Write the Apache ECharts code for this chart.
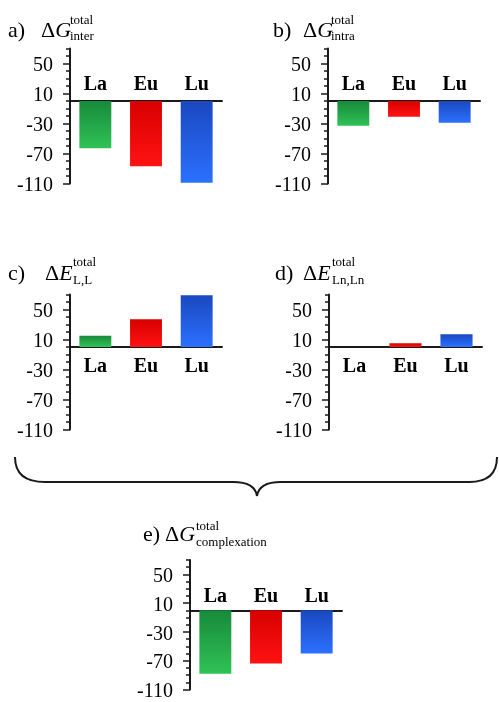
<!DOCTYPE html>
<html><head><meta charset="utf-8">
<script src="https://cdn.jsdelivr.net/npm/echarts@6/dist/echarts.min.js"></script>
<style>html,body{margin:0;padding:0;background:#fff}#c{width:499px;height:702px}</style>
</head><body><div id="c"></div>
<script>
const categories = ['La', 'Eu', 'Lu'];
const interG = [-63, -87, -109];
const intraG = [-33, -21, -29];
const ELL = [15, 37, 69];
const ELnLn = [0, 5, 17];
const complexG = [-88, -74, -60];
const yMin = -110, yMax = 70;
const majorTicks = [-110, -70, -30, 10, 50];
const minorStep = 10;

const serif = '"Liberation Serif", "Times New Roman", serif';
const grad = (c1, c2) => new echarts.graphic.LinearGradient(0, 0, 0, 1, [{offset: 0, color: c1}, {offset: 1, color: c2}]);
const barColors = [grad('#178a3a', '#30c256'), grad('#d80000', '#ff1212'), grad('#1a48bf', '#2c70ff')];

const gridH = 135;
const panels = [
  {data: interG, left: 70, top: 48.5, width: 152, pos: 'top'},
  {data: intraG, left: 328, top: 48.5, width: 152, pos: 'top'},
  {data: ELL, left: 70, top: 294.5, width: 152, pos: 'bottom'},
  {data: ELnLn, left: 329, top: 294.5, width: 153, pos: 'bottom'},
  {data: complexG, left: 190, top: 560, width: 152, pos: 'top'}
];
// distance (px) from grid edge to the zero line, so category labels sit next to the zero line
const zeroFromTop = gridH * (yMax - 0) / (yMax - yMin);
const zeroFromBottom = gridH * (0 - yMin) / (yMax - yMin);

const grid = [], xAxis = [], yAxis = [], series = [];
panels.forEach((p, i) => {
  grid.push({left: p.left, top: p.top, width: p.width, height: gridH});
  xAxis.push({
    type: 'category', gridIndex: i, data: categories, position: p.pos,
    axisLine: {onZero: true, onZeroAxisIndex: 2 * i, lineStyle: {color: '#1a1a1a', width: 2}},
    axisTick: {show: false},
    axisLabel: {fontFamily: serif, fontWeight: 'bold', fontSize: 20, color: '#000',
      margin: p.pos === 'top' ? -(zeroFromTop - 6) : -(zeroFromBottom - 10)},
    splitLine: {show: false}
  });
  yAxis.push({
    type: 'value', gridIndex: i, min: yMin, max: yMax, interval: minorStep, position: 'left',
    axisLine: {show: true, lineStyle: {color: '#1a1a1a', width: 2}},
    axisTick: {show: true, length: 4, lineStyle: {color: '#1a1a1a', width: 1.5}},
    axisLabel: {show: false}, splitLine: {show: false}
  });
  yAxis.push({
    type: 'value', gridIndex: i, min: yMin, max: yMax, position: 'left',
    axisLine: {show: false},
    axisTick: {show: true, length: 7, customValues: majorTicks, lineStyle: {color: '#1a1a1a', width: 1.5}},
    axisLabel: {show: true, customValues: majorTicks, margin: 17, formatter: '{n|{value}}',
      rich: {n: {fontFamily: serif, fontSize: 20, color: '#000', padding: [5, 0, 0, 0]}}},
    splitLine: {show: false}
  });
  series.push({
    type: 'bar', xAxisIndex: i, yAxisIndex: 2 * i, barCategoryGap: '37%',
    data: p.data.map((v, k) => ({value: v, itemStyle: {color: barColors[k]}})),
    silent: true, animation: false
  });
});

const T = (text, x, y, size, extra) => ({
  type: 'text', x: x, y: y,
  style: Object.assign({text: text, fontFamily: serif, fontSize: size, fill: '#000', textAlign: 'left', verticalAlign: 'middle'}, extra || {})
});
const DL = (letter, x, y) => T('{n|Δ}{i|' + letter + '}', x, y, 22, {rich: {n: {fontFamily: serif, fontSize: 22, fill: '#000'}, i: {fontFamily: serif, fontSize: 22, fontStyle: 'italic', fill: '#000'}}});
const braceStyle = {fill: null, stroke: '#1a1a1a', lineWidth: 2};
const Q = (x1, y1, cx, cy, x2, y2) => ({type: 'bezierCurve', shape: {x1, y1, cpx1: cx, cpy1: cy, x2, y2}, style: braceStyle});
const L = (x1, y1, x2, y2) => ({type: 'line', shape: {x1, y1, x2, y2}, style: braceStyle});

const graphic = [
  T('a)', 8, 31, 22), DL('G', 41, 31), T('total', 70, 21, 13), T('inter', 70, 37, 13),
  T('b)', 273, 31, 22), DL('G', 303, 31), T('total', 331, 21, 13), T('intra', 331, 37, 13),
  T('c)', 8, 274, 22), DL('E', 45, 274), T('total', 73, 263, 13), T('L,L', 73, 281, 13),
  T('d)', 275, 274, 22), DL('E', 303, 274), T('total', 332, 263, 13), T('Ln,Ln', 332, 281, 13),
  T('e)', 143, 535, 22), DL('G', 165, 535), T('total', 196, 527, 13), T('complexation', 196, 543, 13),
  Q(15, 457, 15, 482, 45, 482), L(45, 482, 233, 482), Q(233, 482, 255, 482, 257, 496),
  Q(257, 496, 259, 482, 281, 482), L(281, 482, 469, 482), Q(469, 482, 497, 482, 497, 457)
];

const chart = echarts.init(document.getElementById('c'), null, {renderer: 'canvas'});
chart.setOption({backgroundColor: '#fff', animation: false, grid, xAxis, yAxis, series, graphic});
</script></body></html>
